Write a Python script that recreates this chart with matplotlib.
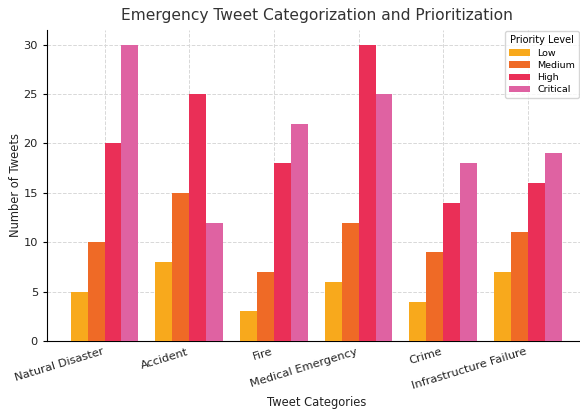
import numpy as np
import matplotlib
matplotlib.use("Agg")
import matplotlib.pyplot as plt

categories = ["Natural Disaster", "Accident", "Fire", "Medical Emergency", "Crime", "Infrastructure Failure"]
levels = ["Low", "Medium", "High", "Critical"]
low = [5, 8, 3, 6, 4, 7]
medium = [10, 15, 7, 12, 9, 11]
high = [20, 25, 18, 30, 14, 16]
critical = [30, 12, 22, 25, 18, 19]
colors = ["#F8A91C", "#EF6A26", "#EA2F57", "#DF62A2"]

fig = plt.figure(figsize=(5.8, 4.09), dpi=100)
ax = fig.add_axes([0.081, 0.166, 0.93, 0.761])

x = np.arange(len(categories))
w = 0.2
for i, (vals, lab) in enumerate(zip([low, medium, high, critical], levels)):
    ax.bar(x + (i - 1.5) * w, vals, w, label=lab, color=colors[i], zorder=3)

ax.set_xticks(x)
ax.set_xticklabels(categories, rotation=17, ha="right", fontsize=8.2, color="#222222")
ax.tick_params(axis="y", labelsize=8.2, labelcolor="#222222", length=3)
ax.tick_params(axis="x", length=0, pad=4)
ax.set_xlim(-0.68, 5.69)
ax.set_ylim(0, 31.5)
ax.set_xlabel("Tweet Categories", fontsize=8.3, color="#222222")
ax.xaxis.set_label_coords(0.5, -0.176)
ax.set_ylabel("Number of Tweets", fontsize=8.3, color="#222222")
ax.yaxis.set_label_coords(-0.046, 0.5)
ax.set_title("Emergency Tweet Categorization and Prioritization", fontsize=11.2,
             color="#333333", pad=7)
ax.grid(True, linestyle="--", color="#d8d8d8", linewidth=0.7, zorder=0)
ax.spines["top"].set_visible(False)
ax.spines["right"].set_visible(False)
ax.legend(title="Priority Level", fontsize=6.8, title_fontsize=7, loc="upper right",
          bbox_to_anchor=(0.995, 1.01), handlelength=2.2, labelspacing=0.35)

fig.savefig("out.png", dpi=100)
